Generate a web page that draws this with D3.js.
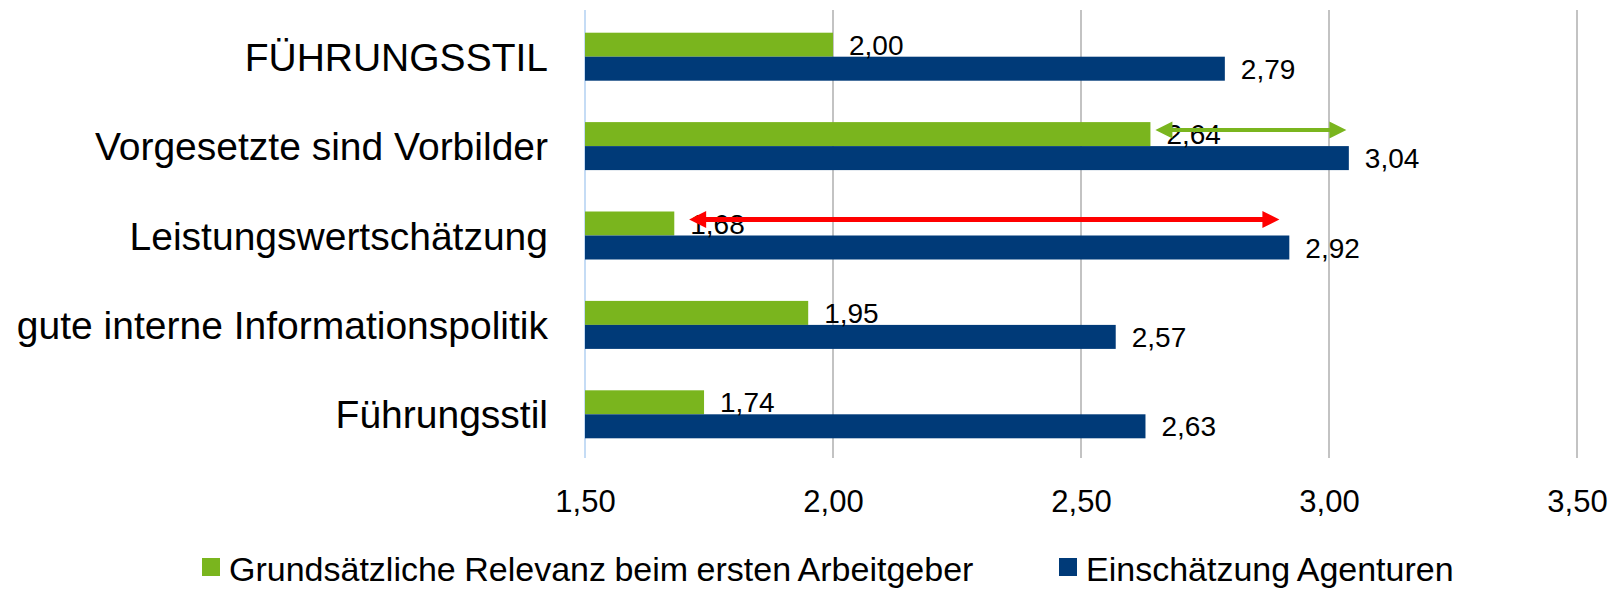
<!DOCTYPE html>
<html>
<head>
<meta charset="utf-8">
<script src="https://cdn.jsdelivr.net/npm/d3@7"></script>
<style>
  body { margin: 0; background: #fff; }
  text { font-family: Arial, "Liberation Sans", sans-serif; fill: #000; }
</style>
</head>
<body>
<script>
// data
var categories = ["FÜHRUNGSSTIL", "Vorgesetzte sind Vorbilder", "Leistungswertschätzung",
                  "gute interne Informationspolitik", "Führungsstil"];
var seriesNames = ["Grundsätzliche Relevanz beim ersten Arbeitgeber", "Einschätzung Agenturen"];
var relevanz = [2.00, 2.64, 1.68, 1.95, 1.74];
var agenturen = [2.79, 3.04, 2.92, 2.57, 2.63];
var tickValues = [1.5, 2.0, 2.5, 3.0, 3.5];

// gap arrows drawn over the chart
var arrowCats = ["Vorgesetzte sind Vorbilder", "Leistungswertschätzung"];
var arrowFrom = [2.65, 1.71];
var arrowTo = [3.035, 2.90];

var GREEN = "#7AB51E";
var BLUE = "#003A78";
var colors = [GREEN, BLUE];
var arrowColors = [GREEN, "#FF0000"];
var arrowWidths = [4, 5];

var width = 1619, height = 590;
var svg = d3.select("body").append("svg")
    .attr("width", width)
    .attr("height", height);

var x = d3.scaleLinear().domain([1.5, 3.5]).range([585, 1577]);
var y = d3.scaleBand().domain(categories).range([12, 459]).padding(0);
var BAR_H = 24;
var ySub = d3.scaleBand().domain(seriesNames).range([0, BAR_H * 2]);
var bandOff = (y.bandwidth() - BAR_H * 2) / 2;

var de = d3.formatLocale({ decimal: ",", thousands: ".", grouping: [3], currency: ["", "€"] });
var fmt = de.format(".2f");

// gridlines
svg.append("g")
  .selectAll("line")
  .data(tickValues.slice(1))
  .enter().append("line")
  .attr("x1", d => x(d)).attr("x2", d => x(d))
  .attr("y1", 10).attr("y2", 458)
  .attr("stroke", "#C3C3C3")
  .attr("stroke-width", 2);

// value axis line (light blue)
svg.append("line")
  .attr("x1", x(1.5)).attr("x2", x(1.5))
  .attr("y1", 10).attr("y2", 458)
  .attr("stroke", "#C5DCF5")
  .attr("stroke-width", 2);

// bars
var rows = categories.map(function(c, i) {
  return { cat: c, values: [relevanz[i], agenturen[i]] };
});

var groups = svg.append("g").selectAll("g")
  .data(rows)
  .enter().append("g")
  .attr("transform", d => "translate(0," + (y(d.cat) + bandOff) + ")");

groups.selectAll("rect")
  .data(d => d.values.map((v, j) => ({ v: v, s: seriesNames[j], j: j })))
  .enter().append("rect")
  .attr("x", x(1.5))
  .attr("y", d => ySub(d.s))
  .attr("width", d => x(d.v) - x(1.5))
  .attr("height", ySub.bandwidth())
  .attr("fill", d => colors[d.j]);

groups.selectAll("text")
  .data(d => d.values.map((v, j) => ({ v: v, s: seriesNames[j], j: j })))
  .enter().append("text")
  .attr("x", d => x(d.v) + 16)
  .attr("y", d => ySub(d.s) + ySub.bandwidth() / 2)
  .attr("dy", "0.36em")
  .style("font-size", "28px")
  .text(d => fmt(d.v));

// category axis
var yAxis = svg.append("g")
  .attr("transform", "translate(548,0)")
  .call(d3.axisLeft(y).tickSize(0).tickPadding(0));
yAxis.select(".domain").remove();
yAxis.selectAll("text")
  .attr("dy", "0.36em")
  .style("font-size", "39px")
  .style("font-family", "Arial, 'Liberation Sans', sans-serif")
  .attr("fill", "#000");

// value axis labels
var xAxis = svg.append("g")
  .attr("transform", "translate(0,459)")
  .call(d3.axisBottom(x).tickValues(tickValues).tickFormat(fmt).tickSize(0).tickPadding(31));
xAxis.select(".domain").remove();
xAxis.selectAll("text")
  .style("font-size", "31px")
  .style("font-family", "Arial, 'Liberation Sans', sans-serif")
  .attr("fill", "#000");

// arrows
var HEAD_L = 17, HEAD_W = 17;
arrowCats.forEach(function(c, i) {
  var yy = y(c) + bandOff + ySub(seriesNames[0]) + ySub.bandwidth() / 2 - 4;
  var x0 = x(arrowFrom[i]), x1 = x(arrowTo[i]);
  var w = arrowWidths[i] / 2;
  var p = d3.path();
  p.moveTo(x0, yy);
  p.lineTo(x0 + HEAD_L, yy - HEAD_W / 2);
  p.lineTo(x0 + HEAD_L, yy - w);
  p.lineTo(x1 - HEAD_L, yy - w);
  p.lineTo(x1 - HEAD_L, yy - HEAD_W / 2);
  p.lineTo(x1, yy);
  p.lineTo(x1 - HEAD_L, yy + HEAD_W / 2);
  p.lineTo(x1 - HEAD_L, yy + w);
  p.lineTo(x0 + HEAD_L, yy + w);
  p.lineTo(x0 + HEAD_L, yy + HEAD_W / 2);
  p.closePath();
  svg.append("path").attr("d", p.toString()).attr("fill", arrowColors[i]);
});

// legend
var legendX = [202, 1059];
var legend = svg.append("g").selectAll("g")
  .data(seriesNames)
  .enter().append("g")
  .attr("transform", (d, i) => "translate(" + legendX[i] + ",558)");
legend.append("rect")
  .attr("width", 18).attr("height", 18)
  .attr("fill", (d, i) => colors[i]);
legend.append("text")
  .attr("x", 27)
  .attr("y", 23)
  .style("font-size", "34px")
  .style("word-spacing", "-1px")
  .text(d => d);
</script>
</body>
</html>
